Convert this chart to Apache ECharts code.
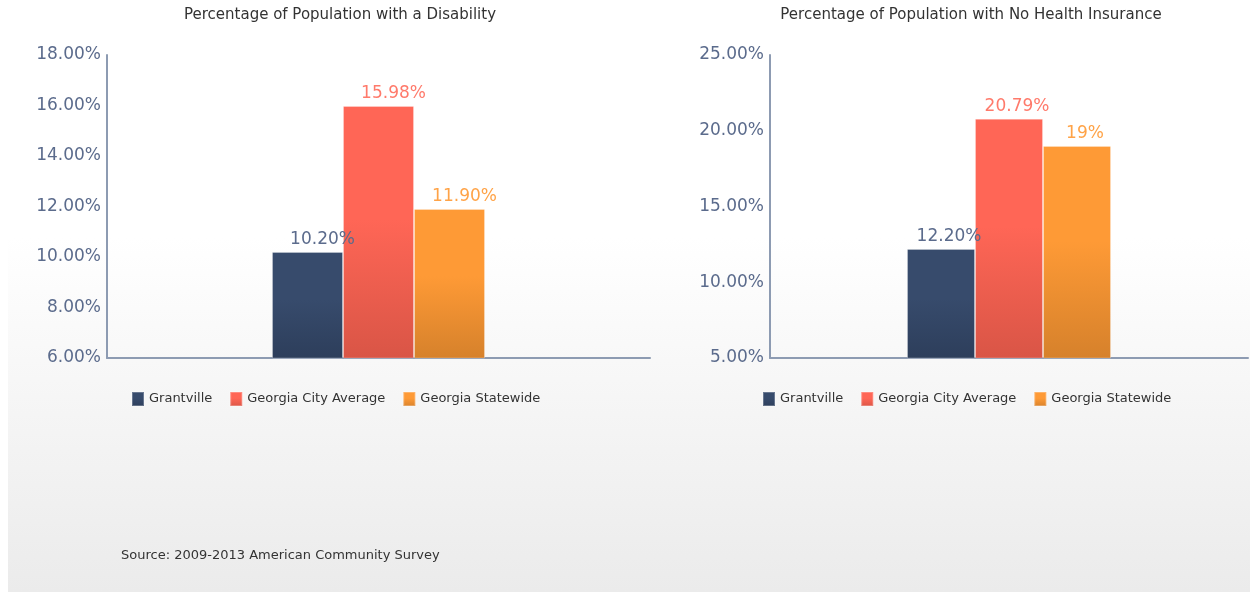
<!DOCTYPE html>
<html>
<head>
    <title>ECharts</title>
    <meta charset="utf-8">
    <style>
        body { margin: 0; background: #fff; }
        #bg { position: absolute; left: 8px; top: 0; width: 1242px; height: 592px;
              background: linear-gradient(#ffffff 0%, #ffffff 40%, #ebebeb 100%); }
        #main { position: absolute; left: 0; top: 0; width: 1250px; height: 592px; }
    </style>
</head>
<body>
    <div id="bg"></div>
    <div id="main"></div>
    <script type="text/javascript" src="https://cdn.jsdelivr.net/npm/echarts@6/dist/echarts.min.js"></script>
    <script type="text/javascript">
    // 数据
    var seriesNames = ['Grantville', 'Georgia City Average', 'Georgia Statewide'];
    var disability = [10.20, 15.98, 11.90];
    var disabilityLabels = ['10.20%', '15.98%', '11.90%'];
    var noInsurance = [12.20, 20.79, 19];
    var noInsuranceLabels = ['12.20%', '20.79%', '19%'];

    var topColors = ['#374b6c', '#ff6656', '#fe9a36'];
    var bottomColors = ['#2d3e5b', '#d95546', '#d6812b'];
    var labelColors = ['#5b6b8c', '#ff7a6b', '#ffa347'];
    var axisColor = '#8d9bb2';
    var font = 'DejaVu Sans';

    var myChart = echarts.init(document.getElementById('main'));

    function fill(i) {
        return new echarts.graphic.LinearGradient(0, 0, 0, 1, [
            {offset: 0, color: topColors[i]},
            {offset: 0.45, color: topColors[i]},
            {offset: 1, color: bottomColors[i]}
        ]);
    }

    var series = [];
    seriesNames.forEach(function (name, i) {
        series.push({
            name: name, type: 'bar', xAxisIndex: 0, yAxisIndex: 0,
            barWidth: 71, barGap: 0,
            data: [disability[i]],
            itemStyle: { color: fill(i), borderColor: 'rgba(255,255,255,0.25)', borderWidth: 1 },
            label: { show: true, position: 'top', distance: 4, offset: [15, 0],
                     formatter: disabilityLabels[i], color: labelColors[i],
                     fontFamily: font, fontSize: 17 }
        });
        series.push({
            name: name, type: 'bar', xAxisIndex: 1, yAxisIndex: 1,
            barWidth: 68, barGap: 0,
            data: [noInsurance[i]],
            itemStyle: { color: fill(i), borderColor: 'rgba(255,255,255,0.25)', borderWidth: 1 },
            label: { show: true, position: 'top', distance: 4, offset: [8, 0],
                     formatter: noInsuranceLabels[i], color: labelColors[i],
                     fontFamily: font, fontSize: 17 }
        });
    });

    function yAxis(idx, min, max, interval) {
        return {
            type: 'value', gridIndex: idx, min: min, max: max, interval: interval,
            axisLine: { show: true, lineStyle: { color: axisColor, width: 2 } },
            axisTick: { show: false },
            splitLine: { show: false },
            axisLabel: { color: '#5b6b8c', fontFamily: font, fontSize: 17, margin: 6,
                         formatter: function (v) { return v.toFixed(2) + '%'; } }
        };
    }
    function xAxis(idx) {
        return {
            type: 'category', gridIndex: idx, data: [''],
            axisLine: { show: true, lineStyle: { color: axisColor, width: 2 } },
            axisTick: { show: false },
            axisLabel: { show: false }
        };
    }
    function legend(left) {
        return {
            data: seriesNames, left: left, top: 391, padding: 0, icon: 'rect',
            itemWidth: 12, itemHeight: 14, itemGap: 17,
            textStyle: { color: '#333', fontFamily: font, fontSize: 13 },
            selectedMode: false
        };
    }

    var option = {
        animation: false,
        title: [
            { text: 'Percentage of Population with a Disability', left: 340, top: 8, padding: 0, textAlign: 'center',
              textStyle: { color: '#333', fontFamily: font, fontSize: 15, fontWeight: 'normal' } },
            { text: 'Percentage of Population with No Health Insurance', left: 971, top: 8, padding: 0, textAlign: 'center',
              textStyle: { color: '#333', fontFamily: font, fontSize: 15, fontWeight: 'normal' } },
            { text: 'Source: 2009-2013 American Community Survey', left: 121, top: 549, padding: 0,
              textStyle: { color: '#333', fontFamily: font, fontSize: 13, fontWeight: 'normal' } }
        ],
        legend: [legend(131), legend(762)],
        grid: [
            { left: 107, right: 600, top: 55, bottom: 234 },
            { left: 770, right: 2, top: 55, bottom: 234 }
        ],
        xAxis: [xAxis(0), xAxis(1)],
        yAxis: [yAxis(0, 6, 18, 2), yAxis(1, 5, 25, 5)],
        series: series
    };

    myChart.setOption(option);
    </script>
</body>
</html>
